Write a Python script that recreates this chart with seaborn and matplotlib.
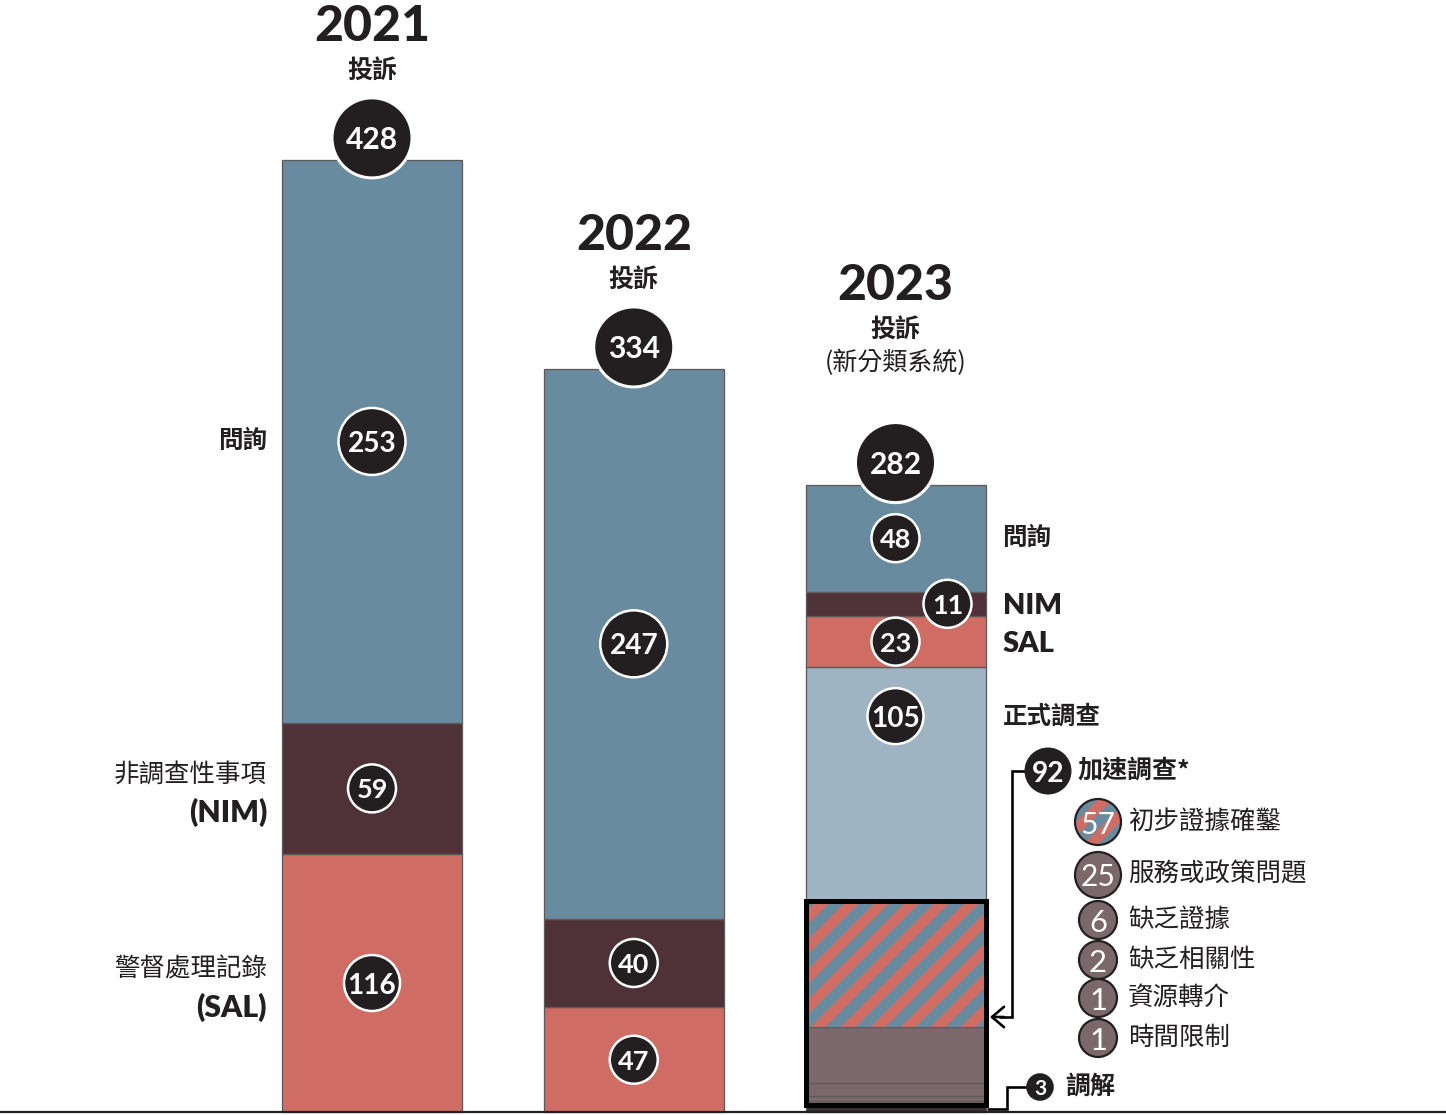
import matplotlib
matplotlib.use("Agg")
import matplotlib.pyplot as plt
from matplotlib.patches import Ellipse, Rectangle
import seaborn as sns

# ---------------- data ----------------
years = ["2021", "2022", "2023"]
totals = [428, 334, 282]
inquiry = [253, 247, 48]          # 問詢
nim = [59, 40, 11]                # 非調查性事項 (NIM)
sal = [116, 47, 23]               # 警督處理記錄 (SAL)
formal_2023 = 105                 # 正式調查
expedited_2023 = 92               # 加速調查*
expedited_labels = ["初步證據確鑿", "服務或政策問題", "缺乏證據", "缺乏相關性", "資源轉介", "時間限制"]
expedited_values = [57, 25, 6, 2, 1, 1]
mediation_2023 = 3                # 調解

# ---------------- style ----------------
DPI = 180
W_PX, H_PX = 1446, 1115


def P(px):
    """pixels -> points"""
    return px * 72.0 / DPI


sns.set_theme(style="white")
plt.rcParams["font.family"] = ["Lato", "Noto Sans CJK TC", "DejaVu Sans"]
plt.rcParams["hatch.linewidth"] = P(10.6)

BLUE = "#688BA0"
DARK = "#4F3238"
SALMON = "#CF6D64"
LIGHT = "#9EB4C2"
MAUVE = "#7A686B"
INK = "#231F20"
MED = "#3A3033"
EDGE = "#5E5A5B"
CJK = ["Noto Sans CJK TC", "DejaVu Sans"]
LAT = ["Lato", "Noto Sans CJK TC", "DejaVu Sans"]
HATCH = "//"

# pixel frame of the layout
X0, SP = 372.0, 261.75     # centre of first bar, spacing between bars (px)
Y0, SC = 1112.0, 2.224     # baseline (px), px per complaint
BW = 180.0 / SP            # bar width in category units


def dx(px):
    return (px - X0) / SP


def dy(py):
    return (Y0 - py) / SC


fig = plt.figure(figsize=(W_PX / DPI, H_PX / DPI), dpi=DPI)
ax = fig.add_axes([0, 0, 1, 1])

# ---------------- stacked segments ----------------
segments = []
for i, yr in enumerate(years[:2]):
    segments += [(yr, sal[i], SALMON, None, "sal"),
                 (yr, nim[i], DARK, None, "nim"),
                 (yr, inquiry[i], BLUE, None, "inq")]
segments.append(("2023", mediation_2023, MED, None, "med"))
for lab, v in reversed(list(zip(expedited_labels, expedited_values))):
    if lab == expedited_labels[0]:
        segments.append(("2023", v, SALMON, HATCH, "exp0"))
    else:
        segments.append(("2023", v, MAUVE, None, "exp"))
segments += [("2023", formal_2023, LIGHT, None, "formal"),
             ("2023", sal[2], SALMON, None, "sal"),
             ("2023", nim[2], DARK, None, "nim"),
             ("2023", inquiry[2], BLUE, None, "inq")]

bottoms = {y: 0 for y in years}
placed = []
for yr, v, col, hatch, kind in segments:
    if hatch:
        kw = dict(edgecolor=BLUE, linewidth=0, hatch=hatch)
    else:
        kw = dict(edgecolor=EDGE, linewidth=P(1.3))
    sns.barplot(x=[yr], y=[v], order=years, color=col, saturation=1, width=BW,
                bottom=bottoms[yr], errorbar=None, ax=ax, **kw)
    placed.append((yr, bottoms[yr], v, kind))
    bottoms[yr] += v

ax.set_xlim(dx(0), dx(W_PX))
ax.set_ylim(dy(H_PX), dy(0))
ax.axis("off")
ax.axhline(0, color=INK, lw=P(2.2), zorder=6)

# black frame around expedited investigations
ax.add_patch(Rectangle((2 - BW / 2, mediation_2023), BW, expedited_2023, fill=False,
                       edgecolor="black", lw=P(5), zorder=7))


def bubble(x, y, d, text, fs, face=INK, edge="white", elw=2.5, tcol="white",
           weight="bold", hatch=None, family=LAT):
    w, h = d / SP, d / SC
    if hatch:
        ax.add_patch(Ellipse((x, y), w, h, facecolor=SALMON, edgecolor=BLUE,
                             lw=0, hatch=hatch, zorder=8))
        ax.add_patch(Ellipse((x, y), w, h, facecolor="none", edgecolor=edge,
                             lw=P(elw), zorder=9))
    else:
        ax.add_patch(Ellipse((x, y), w, h, facecolor=face, edgecolor=edge,
                             lw=P(elw), zorder=8))
    ax.text(x, y, text, ha="center", va="center_baseline", color=tcol,
            fontsize=P(fs), fontweight=weight, family=family, zorder=10)


# totals + headers
for i, yr in enumerate(years):
    cy = totals[i] + 10
    bubble(i, cy, 80, str(totals[i]), 30, elw=3)
    top_px = Y0 - cy * SC - 40
    if yr == "2023":
        ax.text(i, dy(top_px - 60), "(新分類系統)", ha="center", va="center",
                fontsize=P(25), family=CJK, color=INK)
        y_t = top_px - 93
    else:
        y_t = top_px - 27
    ax.text(i, dy(y_t), "投訴", ha="center", va="center", fontsize=P(25),
            fontweight="bold", family=CJK, color=INK)
    ax.text(i, dy(y_t - 44), yr, ha="center", va="center", fontsize=P(50),
            fontweight="black", family=LAT, color=INK)

# segment bubbles
for yr, b, v, kind in placed:
    i = years.index(yr)
    if kind in ("med", "exp", "exp0"):
        continue
    cy = b + v / 2
    cx = i
    if kind == "formal":
        cy = b + v - 22
    if yr == "2023" and kind == "nim":
        cx = i + 52 / SP
    if v >= 200:
        d = 67
    elif v >= 100:
        d = 56
    else:
        d = 48
    fs = 28 if v >= 100 else 27
    bubble(cx, cy, d, str(v), fs)

# left labels for 2021
lx = -BW / 2 - 15 / SP
seg21 = {k: (b, v) for yr, b, v, k in placed if yr == "2021"}
b, v = seg21["inq"]
ax.text(lx, b + v / 2, "問詢", ha="right", va="center", fontsize=P(24.5),
        fontweight="bold", family=CJK, color=INK)
for k, cj, en in [("nim", "非調查性事項", "(NIM)"), ("sal", "警督處理記錄", "(SAL)")]:
    b, v = seg21[k]
    c = b + v / 2 - 2
    ax.text(lx, c + 17.5 / SC, cj, ha="right", va="center", fontsize=P(25.5),
            family=CJK, color=INK)
    ax.text(lx, c - 17.5 / SC, en, ha="right", va="center_baseline", fontsize=P(30),
            fontweight="heavy", family=LAT, color=INK)

# right labels for 2023
rx = 2 + BW / 2 + 17 / SP
seg23 = {k: (b, v) for yr, b, v, k in placed if yr == "2023"}
for k, lab, fam, fs in [("inq", "問詢", CJK, 24.5), ("nim", "NIM", LAT, 29),
                        ("sal", "SAL", LAT, 29)]:
    b, v = seg23[k]
    ax.text(rx, b + v / 2, lab, ha="left", va="center_baseline" if fam is LAT else "center",
            fontsize=P(fs), fontweight="heavy" if fam is LAT else "bold",
            family=fam, color=INK)
b, v = seg23["formal"]
ax.text(rx, b + v - 22, "正式調查", ha="left", va="center", fontsize=P(24.5),
        fontweight="bold", family=CJK, color=INK)

# expedited breakdown
bubble(dx(1048), dy(771), 46, str(expedited_2023), 28, edge=INK, elw=1)
ax.text(dx(1077), dy(771), "加速調查*", ha="left", va="center", fontsize=P(25),
        fontweight="bold", family=CJK, color=INK)
item_y = [822, 875, 920, 960, 998, 1038]
for j, (lab, v) in enumerate(zip(expedited_labels, expedited_values)):
    d = 46 if v >= 10 else 38
    bubble(dx(1098), dy(item_y[j]), d, str(v), 30 if v >= 10 else 31,
           face=MAUVE, edge=INK, elw=2.2, weight="normal",
           hatch=HATCH if j == 0 else None)
    ax.text(dx(1128), dy(item_y[j]), lab, ha="left", va="center", fontsize=P(25.5),
            family=CJK, color=INK)

# bracket + arrow to hatched block
lw_b = P(2.6)
ax.plot([dx(1026), dx(1012), dx(1012), dx(1000)],
        [dy(771), dy(771), dy(1017), dy(1017)], color="black", lw=lw_b,
        solid_joinstyle="miter", zorder=6)
ax.annotate("", xy=(dx(990), dy(1017)), xytext=(dx(1004), dy(1017)),
            arrowprops=dict(arrowstyle="->,head_length=0.4,head_width=0.34",
                            color="black", lw=lw_b, shrinkA=0, shrinkB=0,
                            mutation_scale=P(30)), zorder=6)

# mediation
bubble(dx(1040), dy(1087), 27, str(mediation_2023), 21, edge=INK, elw=0.5)
ax.text(dx(1065), dy(1087), "調解", ha="left", va="center", fontsize=P(25),
        fontweight="bold", family=CJK, color=INK)
ax.plot([dx(1026), dx(1007), dx(1007), dx(988)],
        [dy(1087), dy(1087), dy(1109), dy(1109)], color="black", lw=lw_b,
        solid_joinstyle="miter", zorder=6)

fig.savefig("out.png", dpi=DPI, facecolor="white")
